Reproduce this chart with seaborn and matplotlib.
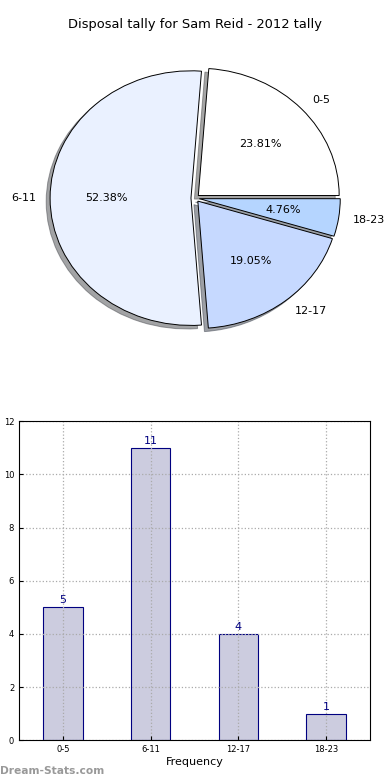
import pandas as pd
import matplotlib
matplotlib.use("Agg")
import matplotlib.pyplot as plt
import seaborn as sns

# Data
groups = ["0-5", "6-11", "12-17", "18-23"]
tally = [5, 11, 4, 1]
pie_colors = ["#ffffff", "#eaf1ff", "#c6d9ff", "#b5d5ff"]

sns.set_style("white")
plt.rcParams['font.family'] = ['DejaVu Sans']
plt.rcParams['text.color'] = 'black'
plt.rcParams['axes.labelcolor'] = 'black'
plt.rcParams['xtick.color'] = 'black'
plt.rcParams['ytick.color'] = 'black'

fig = plt.figure(figsize=(3.9, 7.8), dpi=100)

# Pie chart (elliptical, like the old matplotlib output)
ax1 = fig.add_axes([0.049, 0.542, 0.903, 0.408])
ax1.pie(tally, labels=groups, colors=pie_colors, autopct='%.2f%%',
        explode=[0.03] * len(tally), shadow=True, startangle=0,
        wedgeprops={'edgecolor': 'black', 'linewidth': 0.7},
        textprops={'fontsize': 8, 'color': 'black'})
ax1.set_aspect('auto')
ax1.set_xlim(-1.25, 1.25)
ax1.set_ylim(-1.25, 1.25)
ax1.set_title('Disposal tally for Sam Reid - 2012 tally', fontsize=9.4, pad=8, color='black')

# Bar chart
ax2 = fig.add_axes([0.049, 0.051, 0.9, 0.409])
df = pd.DataFrame({'group': groups, 'tally': tally})
sns.barplot(data=df, x='group', y='tally', color='#ccccdf', edgecolor='#000080',
            linewidth=0.8, width=0.45, saturation=1, ax=ax2)
for i, v in enumerate(tally):
    ax2.text(i, v + 0.08, str(v), ha='center', va='bottom', color='#000080', fontsize=8)
ax2.set_xlim(-0.5, 3.5)
ax2.set_ylim(0, 12)
ax2.set_yticks(range(0, 13, 2))
ax2.grid(True, linestyle=':', color='#aaaaaa', linewidth=0.9)
ax2.set_axisbelow(False)
for sp in ax2.spines.values():
    sp.set_color('black')
    sp.set_linewidth(0.8)
    sp.set_zorder(5)
ax2.tick_params(labelsize=6, direction='in', length=3, left=True, bottom=True)
ax2.set_xlabel('Frequency', fontsize=8, labelpad=2)
ax2.set_ylabel('Disposal Tally', fontsize=8)
ax2.yaxis.set_label_coords(-0.07, 0.5)

fig.text(0.0, 0.005, 'Dream-Stats.com', color='#999999', fontsize=7.7,
         fontweight='bold', ha='left', va='bottom')

fig.savefig('out.png', dpi=100)
